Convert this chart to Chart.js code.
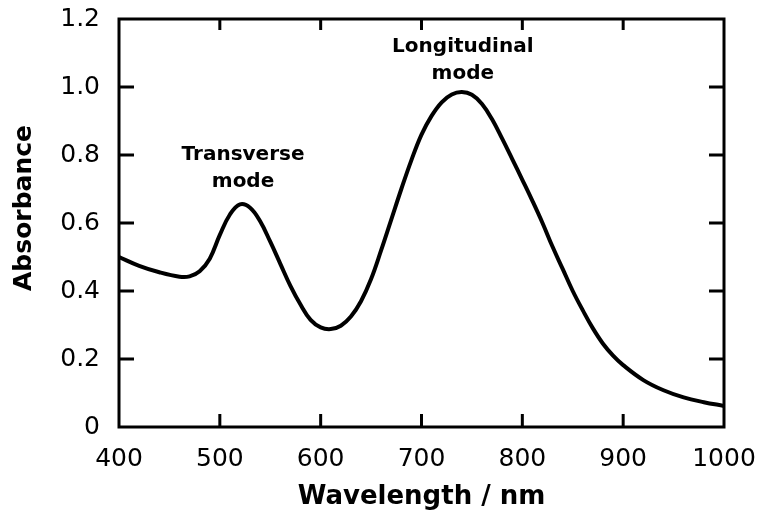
<!DOCTYPE html>
<html>
<head>
<meta charset="utf-8">
<script src="https://cdn.jsdelivr.net/npm/chart.js@4/dist/chart.umd.min.js"></script>
<style>
  html, body { margin: 0; padding: 0; background: #fff; }
  #wrap { width: 766px; height: 513px; }
</style>
</head>
<body>
<div id="wrap"><canvas id="spectrum_data"></canvas></div>
<script>
// absorbance spectrum
var wavelength = [400, 420, 440, 460, 470, 480, 490, 500, 510, 520, 530, 540, 550, 560, 570, 580, 590, 600, 610, 620, 630, 640, 650, 660, 670, 680, 690, 700, 710, 720, 730, 740, 750, 760, 770, 780, 790, 800, 810, 820, 830, 840, 850, 860, 870, 880, 890, 900, 920, 940, 960, 980, 1000];
var absorbance = [0.50, 0.474, 0.455, 0.442, 0.443, 0.458, 0.495, 0.565, 0.625, 0.655, 0.645, 0.605, 0.545, 0.48, 0.415, 0.36, 0.315, 0.293, 0.288, 0.298, 0.325, 0.37, 0.435, 0.52, 0.61, 0.70, 0.785, 0.86, 0.915, 0.955, 0.978, 0.985, 0.977, 0.95, 0.905, 0.848, 0.788, 0.727, 0.665, 0.60, 0.53, 0.465, 0.40, 0.343, 0.29, 0.245, 0.21, 0.182, 0.138, 0.108, 0.087, 0.073, 0.062];

var xTicks = [400, 500, 600, 700, 800, 900, 1000];
var yTicks = [0, 0.2, 0.4, 0.6, 0.8, 1.0, 1.2];

// peak labels: [wavelength, absorbance of first line, text lines]
var peakNotes = [
    [523, 0.80, ['Transverse', 'mode']],
    [741, 1.118, ['Longitudinal', 'mode']]
];

var pts = wavelength.map(function(w, i){ return {x: w, y: absorbance[i]}; });

function noPad(s){ s.paddingTop = 0; s.paddingBottom = 0; s.paddingLeft = 0; s.paddingRight = 0; }

// frame with inward ticks on all four sides, y title, peak labels
const framePlugin = {
    id: 'frame',
    afterDatasetsDraw: function(chart){
        const ctx = chart.ctx;
        const a = chart.chartArea;
        const xs = chart.scales.x, ys = chart.scales.y;
        ctx.save();
        ctx.strokeStyle = '#000';
        ctx.lineWidth = 3;
        ctx.lineCap = 'square';
        ctx.strokeRect(a.left, a.top, a.right - a.left, a.bottom - a.top);
        ctx.beginPath();
        xTicks.forEach(function(v){
            if (v === xs.min || v === xs.max) return;
            const px = xs.getPixelForValue(v);
            ctx.moveTo(px, a.bottom); ctx.lineTo(px, a.bottom - 13);
            ctx.moveTo(px, a.top); ctx.lineTo(px, a.top + 11);
        });
        yTicks.forEach(function(v){
            if (v === ys.min || v === ys.max) return;
            const py = ys.getPixelForValue(v);
            ctx.moveTo(a.left, py); ctx.lineTo(a.left + 15, py);
            ctx.moveTo(a.right, py); ctx.lineTo(a.right - 15, py);
        });
        ctx.lineCap = 'butt';
        ctx.stroke();

        ctx.fillStyle = '#000';
        ctx.textAlign = 'center';
        ctx.textBaseline = 'middle';

        // y axis title, a little above centre as in the original
        ctx.save();
        ctx.font = 'bold 25px "DejaVu Sans"';
        ctx.translate(24, (a.top + a.bottom) / 2 - 15);
        ctx.rotate(-Math.PI / 2);
        ctx.fillText('Absorbance', 0, 0);
        ctx.restore();

        ctx.font = 'bold 20px "DejaVu Sans"';
        peakNotes.forEach(function(n){
            const px = xs.getPixelForValue(n[0]);
            let py = ys.getPixelForValue(n[1]);
            n[2].forEach(function(t){
                ctx.fillText(t, px, py);
                py += 27;
            });
        });
        ctx.restore();
    }
};

const config_spectrum = {
    type: 'line',
    data: {
        datasets: [{
            data: pts,
            borderColor: '#000',
            borderWidth: 4,
            pointRadius: 0,
            tension: 0.4,
            fill: false
        }]
    },
    options: {
        responsive: true,
        maintainAspectRatio: false,
        animation: false,
        layout: { padding: { top: 19, right: 42, left: 0, bottom: 0 } },
        plugins: { legend: { display: false }, tooltip: { enabled: false } },
        scales: {
            x: {
                type: 'linear',
                min: 400, max: 1000,
                afterFit: function(s){ s.height = 86; noPad(s); },
                afterBuildTicks: function(s){ s.ticks = xTicks.map(function(v){ return {value: v}; }); },
                grid: { display: false, drawTicks: false },
                border: { display: false },
                ticks: {
                    color: '#000',
                    padding: 17,
                    maxRotation: 0,
                    font: { family: 'DejaVu Sans', size: 25 },
                    callback: function(v){ return String(v); }
                },
                title: {
                    display: true,
                    text: 'Wavelength / nm',
                    color: '#000',
                    padding: { top: 0, bottom: 0 },
                    font: { family: 'DejaVu Sans', size: 26, weight: 'bold' }
                }
            },
            y: {
                type: 'linear',
                min: 0, max: 1.2,
                afterFit: function(s){ s.width = 119; noPad(s); },
                afterBuildTicks: function(s){ s.ticks = yTicks.map(function(v){ return {value: v}; }); },
                grid: { display: false, drawTicks: false },
                border: { display: false },
                ticks: {
                    color: '#000',
                    padding: 19,
                    font: { family: 'DejaVu Sans', size: 25 },
                    callback: function(v){ return v === 0 ? '0' : v.toFixed(1); }
                },
                title: { display: false }
            }
        }
    },
    plugins: [framePlugin]
};

const spectrum_data = new Chart(
    document.getElementById('spectrum_data'),
    config_spectrum
);
</script>
</body>
</html>
